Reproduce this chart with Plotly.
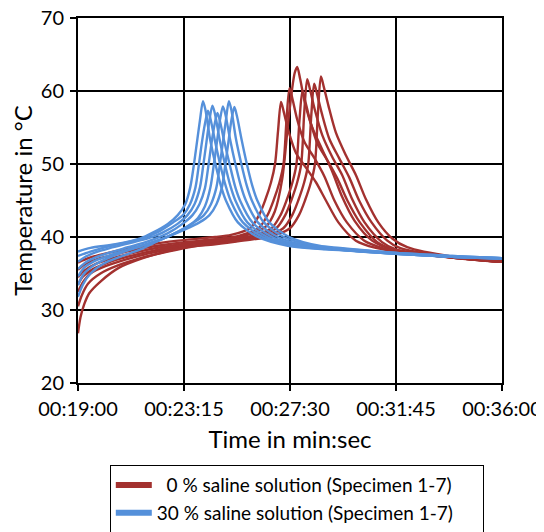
import plotly.graph_objects as go

# ---------------- data (time in decimal minutes, temperature in °C) ----------------
tick_vals = [19.0, 23.25, 27.5, 31.75, 36.0]
tick_text = ["00:19:00", "00:23:15", "00:27:30", "00:31:45", "00:36:00"]

# 0 % saline solution, specimens 1-7
red1_t = [19.0, 19.5, 20.3, 21.3, 22.3, 23.3, 24.5, 25.14, 25.9, 26.26, 26.5, 26.74, 26.9, 27.02, 27.14,
          27.26, 27.44, 27.74, 28.14, 28.54, 28.94, 29.44, 30.14, 30.94, 31.75, 34.0, 36.0]
red1_T = [36.5, 37.2, 37.9, 38.6, 39.2, 39.6, 40.0, 40.3, 41.2, 43.0, 45.0, 47.5, 50.0, 54.5, 58.5,
          57.0, 54.5, 51.5, 49.5, 47.5, 45.0, 42.0, 39.5, 38.5, 38.0, 37.2, 36.7]
red2_t = [19.0, 19.3, 19.8, 20.6, 21.5, 22.4, 23.3, 24.5, 25.48, 26.24, 26.6, 26.84, 27.08, 27.24, 27.36, 27.48,
          27.6, 27.78, 28.08, 28.48, 28.88, 29.28, 29.78, 30.48, 31.28, 31.75, 34.0, 36.0]
red2_T = [35.5, 36.3, 37.0, 37.7, 38.4, 38.9, 39.3, 39.7, 40.2, 41.2, 43.0, 45.0, 47.5, 50.0, 56.0, 60.4,
          58.9, 56.2, 53.0, 50.8, 48.3, 45.0, 42.0, 39.5, 38.4, 38.0, 37.2, 36.6]
red3_t = [19.0, 19.25, 19.7, 20.4, 21.3, 22.3, 23.3, 24.5, 25.79, 26.55, 26.89, 27.19, 27.43, 27.57, 27.69, 27.79,
          27.91, 28.09, 28.39, 28.79, 29.19, 29.59, 30.09, 30.79, 31.75, 34.0, 36.0]
red3_T = [34.5, 35.4, 36.3, 37.1, 37.9, 38.6, 39.1, 39.5, 40.3, 41.5, 43.5, 48.0, 55.8, 59.9, 62.5, 63.3,
          61.6, 58.5, 55.0, 52.0, 49.0, 45.5, 42.2, 39.5, 38.1, 37.2, 36.6]
red4_t = [19.0, 19.2, 19.6, 20.2, 21.0, 22.0, 23.2, 24.5, 26.0, 26.76, 27.12, 27.36, 27.6, 27.76, 27.88, 28.0,
          28.12, 28.3, 28.6, 29.0, 29.4, 29.8, 30.3, 31.0, 31.75, 34.0, 36.0]
red4_T = [33.5, 34.6, 35.6, 36.5, 37.3, 38.1, 38.9, 39.4, 40.2, 41.2, 43.0, 45.0, 47.5, 50.0, 56.0, 60.0,
          58.5, 56.0, 52.8, 50.5, 48.0, 45.0, 42.0, 39.3, 38.2, 37.2, 36.6]
red5_t = [19.0, 19.2, 19.5, 20.1, 20.9, 21.9, 23.1, 24.5, 26.19, 26.95, 27.31, 27.55, 27.79, 27.95, 28.07, 28.19,
          28.31, 28.49, 28.79, 29.19, 29.59, 29.99, 30.49, 31.19, 31.75, 34.0, 36.0]
red5_T = [32.5, 33.8, 35.0, 36.0, 36.9, 37.8, 38.6, 39.2, 40.1, 41.2, 43.0, 45.0, 47.5, 50.0, 57.0, 61.6,
          60.1, 57.5, 54.0, 51.0, 48.5, 45.2, 42.0, 39.3, 38.3, 37.2, 36.6]
red6_t = [19.0, 19.15, 19.4, 19.9, 20.6, 21.5, 22.6, 23.8, 25.2, 26.47, 27.23, 27.59, 27.83, 28.07, 28.23, 28.35, 28.47,
          28.59, 28.77, 29.07, 29.47, 29.87, 30.27, 30.77, 31.4, 31.9, 34.0, 36.0]
red6_T = [30.5, 32.0, 33.6, 35.0, 36.1, 37.1, 38.0, 38.8, 39.4, 40.1, 41.2, 43.0, 45.0, 47.5, 50.0, 56.5, 61.0,
          59.5, 57.0, 53.5, 50.8, 48.2, 45.0, 42.0, 39.5, 38.5, 37.2, 36.6]
red7_t = [19.0, 19.1, 19.25, 19.45, 19.9, 20.65, 21.6, 22.5, 23.3, 24.5, 25.6, 26.74, 27.5, 27.86, 28.1, 28.34, 28.5,
          28.62, 28.74, 28.86, 29.04, 29.34, 29.74, 30.14, 30.54, 31.04, 31.6, 32.2, 34.0, 36.0]
red7_T = [26.8, 29.0, 30.8, 32.3, 33.9, 35.8, 37.1, 38.0, 38.6, 39.0, 39.5, 40.1, 41.2, 43.0, 45.0, 47.5, 50.0,
          57.0, 62.0, 60.5, 58.0, 54.3, 51.2, 48.5, 45.2, 42.0, 39.8, 38.6, 37.3, 36.6]

# 30 % saline solution, specimens 1-7
blue1_t = [19.0, 19.5, 20.5, 21.5, 22.0, 22.6, 23.0, 23.3, 23.5, 23.65, 23.77, 23.89, 24.01,
           24.11, 24.29, 24.51, 24.73, 24.93, 25.41, 26.21, 27.41, 29.0, 31.75, 34.0, 36.0]
blue1_T = [38.0, 38.5, 39.0, 39.8, 40.6, 41.8, 43.0, 44.5, 46.8, 50.0, 53.0, 56.0, 58.6,
           57.4, 53.5, 50.0, 47.0, 45.0, 42.0, 40.0, 38.8, 38.3, 37.7, 37.3, 37.1]
blue2_t = [19.0, 19.5, 20.0, 20.7, 21.5, 22.21, 22.81, 23.21, 23.49, 23.71, 23.85, 23.97, 24.09, 24.21,
           24.31, 24.49, 24.71, 24.93, 25.13, 25.61, 26.41, 27.61, 29.2, 31.75, 34.0, 36.0]
blue2_T = [37.4, 38.0, 38.5, 39.1, 39.7, 40.7, 42.0, 43.0, 44.5, 46.8, 50.0, 53.0, 55.5, 57.3,
           56.2, 53.2, 49.8, 46.9, 44.9, 42.0, 40.0, 38.8, 38.3, 37.7, 37.3, 37.1]
blue3_t = [19.0, 19.3, 19.7, 20.3, 21.0, 21.8, 22.39, 22.99, 23.39, 23.67, 23.89, 24.03, 24.15, 24.27, 24.39,
           24.49, 24.67, 24.89, 25.11, 25.31, 25.79, 26.59, 27.79, 29.3, 31.75, 34.0, 36.0]
blue3_T = [36.6, 37.3, 37.9, 38.5, 39.1, 39.8, 40.6, 41.8, 43.0, 44.5, 46.8, 50.0, 53.0, 56.0, 58.0,
           56.9, 53.5, 50.0, 47.0, 45.0, 42.0, 40.0, 38.8, 38.3, 37.7, 37.3, 37.0]
blue4_t = [19.0, 19.3, 19.7, 20.3, 21.0, 21.8, 22.59, 23.19, 23.59, 23.87, 24.09, 24.23, 24.35, 24.47, 24.59,
           24.69, 24.87, 25.09, 25.31, 25.51, 25.99, 26.79, 27.99, 29.4, 31.75, 34.0, 36.0]
blue4_T = [35.6, 36.5, 37.2, 37.9, 38.6, 39.4, 40.5, 41.8, 43.0, 44.5, 46.7, 49.8, 52.8, 55.3, 57.0,
           55.9, 53.0, 49.8, 46.8, 44.9, 42.0, 40.0, 38.8, 38.3, 37.7, 37.3, 37.0]
blue5_t = [19.0, 19.25, 19.6, 20.2, 20.9, 21.7, 22.5, 23.41, 23.81, 24.09, 24.31, 24.45, 24.57, 24.69, 24.81,
           24.91, 25.09, 25.31, 25.53, 25.73, 26.21, 27.01, 28.21, 29.5, 31.75, 34.0, 36.0]
blue5_T = [34.6, 35.8, 36.6, 37.4, 38.2, 39.0, 39.9, 41.5, 42.6, 44.2, 46.8, 50.0, 53.0, 56.0, 57.9,
           56.8, 53.5, 50.0, 47.0, 45.0, 42.0, 40.0, 38.8, 38.4, 37.8, 37.3, 37.1]
blue6_t = [19.0, 19.2, 19.5, 20.0, 20.7, 21.5, 22.3, 23.05, 23.65, 24.05, 24.33, 24.55, 24.69, 24.81, 24.93, 25.05,
           25.15, 25.33, 25.55, 25.77, 25.97, 26.45, 27.25, 28.45, 29.5, 31.75, 34.0, 36.0]
blue6_T = [33.4, 34.8, 35.8, 36.8, 37.8, 38.7, 39.6, 40.8, 42.0, 43.0, 44.5, 46.8, 50.0, 53.0, 56.0, 58.6,
           57.4, 53.5, 50.0, 47.0, 45.0, 42.0, 40.0, 38.8, 38.4, 37.8, 37.4, 37.1]
blue7_t = [19.0, 19.2, 19.5, 20.0, 20.7, 21.5, 22.3, 23.27, 23.87, 24.27, 24.55, 24.77, 24.91, 25.03, 25.15, 25.27,
           25.37, 25.55, 25.77, 25.99, 26.19, 26.67, 27.47, 28.67, 29.5, 31.75, 34.0, 36.0]
blue7_T = [31.8, 33.5, 35.0, 36.3, 37.3, 38.3, 39.6, 41.0, 42.0, 43.0, 44.5, 46.8, 50.0, 53.0, 56.0, 57.8,
           56.6, 53.5, 50.0, 47.0, 45.0, 42.0, 40.0, 38.8, 38.5, 37.8, 37.4, 37.1]

red_series = [(red1_t, red1_T), (red2_t, red2_T), (red3_t, red3_T), (red4_t, red4_T),
              (red5_t, red5_T), (red6_t, red6_T), (red7_t, red7_T)]
blue_series = [(blue1_t, blue1_T), (blue2_t, blue2_T), (blue3_t, blue3_T), (blue4_t, blue4_T),
               (blue5_t, blue5_T), (blue6_t, blue6_T), (blue7_t, blue7_T)]

legend_names = ["\u00a0\u00a00 % saline solution (Specimen 1-7)\u00a0\u00a0\u00a0\u00a0\u00a0",
                "30 % saline solution (Specimen 1-7)\u00a0\u00a0\u00a0\u00a0\u00a0"]

RED = "#A3312F"
BLUE = "#5590DA"

fig = go.Figure()
for t, T in red_series:
    fig.add_trace(go.Scatter(x=t, y=T, mode="lines", line=dict(color=RED, width=2.4, shape="spline", smoothing=0.8),
                             showlegend=False, hoverinfo="skip"))
for t, T in blue_series:
    fig.add_trace(go.Scatter(x=t, y=T, mode="lines", line=dict(color=BLUE, width=2.4, shape="spline", smoothing=0.8),
                             showlegend=False, hoverinfo="skip"))
# legend entries
fig.add_trace(go.Scatter(x=[None], y=[None], mode="lines", line=dict(color=RED, width=6), name=legend_names[0]))
fig.add_trace(go.Scatter(x=[None], y=[None], mode="lines", line=dict(color=BLUE, width=6), name=legend_names[1]))

axis_common = dict(showgrid=True, gridcolor="black", gridwidth=1.6, showline=True, linecolor="black", linewidth=2,
                   mirror=True, ticks="outside", ticklen=6, tickcolor="black", tickwidth=1.5, zeroline=False,
                   automargin=False, ticklabeloverflow="allow")

fig.update_layout(
    width=544, height=532,
    margin=dict(l=70, r=50, t=10, b=157, autoexpand=False),
    plot_bgcolor="white", paper_bgcolor="white",
    font=dict(family="Lato", size=20, color="black"),
    xaxis=dict(range=[19, 36], tickvals=tick_vals, ticktext=tick_text, ticklabelstandoff=1,
               title=dict(text="Time in min:sec", standoff=12), **axis_common),
    yaxis=dict(range=[20, 70], tickvals=[20, 30, 40, 50, 60, 70], ticklabelstandoff=2,
               title=dict(text="Temperature in °C", standoff=6), **axis_common),
    legend=dict(x=0.075, y=-0.225, xanchor="left", yanchor="top", bordercolor="black", borderwidth=1,
                font=dict(size=19), tracegroupgap=0, bgcolor="white", itemwidth=36),
)

fig.write_html("out.html")
